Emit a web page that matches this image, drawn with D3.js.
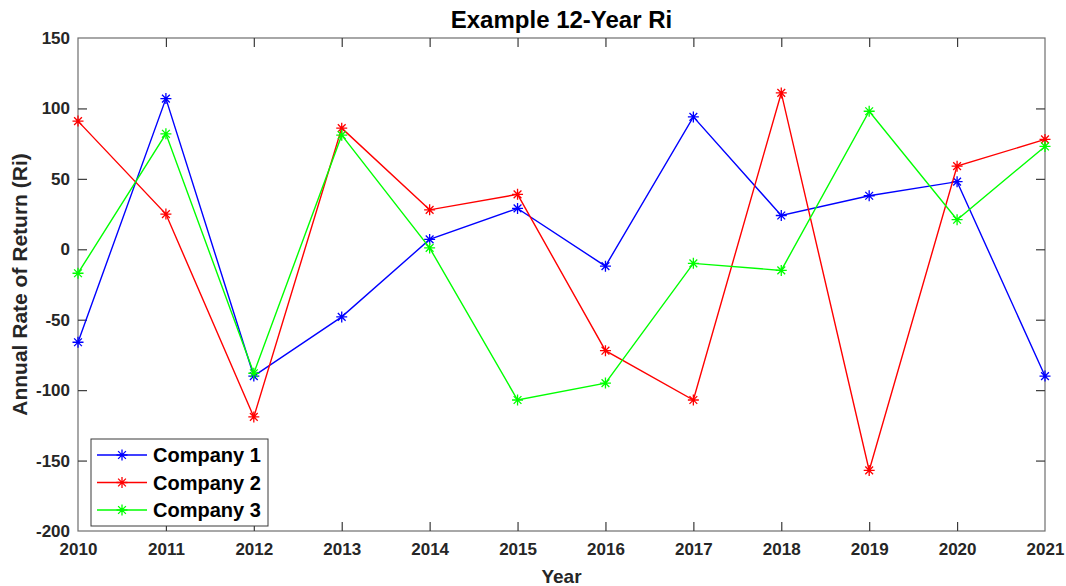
<!DOCTYPE html>
<html>
<head>
<meta charset="utf-8">
<script src="https://cdn.jsdelivr.net/npm/d3@7"></script>
<style>
  body { margin: 0; background: #fff; }
  text { font-family: Arial, "Liberation Sans", sans-serif; font-weight: bold; }
</style>
</head>
<body>
<div class="container"></div>
<script>
const WIDTH = 1066;
const HEIGHT = 586;
const MARGIN = {top: 38, right: 21, bottom: 55, left: 78};

const years = [2010, 2011, 2012, 2013, 2014, 2015, 2016, 2017, 2018, 2019, 2020, 2021];
const company1 = [-66, 107, -90, -48, 7, 29, -12, 94, 24, 38, 48, -90];
const company2 = [91, 25, -119, 86, 28, 39, -72, -107, 111, -157, 59, 78];
const company3 = [-17, 82, -88, 81, 1, -107, -95, -10, -15, 98, 21, 73];
const seriesNames = ["Company 1", "Company 2", "Company 3"];
const seriesColors = ["#0000ff", "#ff0000", "#00ff00"];
const yTicks = [-200, -150, -100, -50, 0, 50, 100, 150];

const INNER_WIDTH = WIDTH - MARGIN.left - MARGIN.right;
const INNER_HEIGHT = HEIGHT - MARGIN.top - MARGIN.bottom;

var translate = function(x, y){
    return "translate(" + x + "," + y + ")";
};

var xScale = d3.scaleLinear()
    .domain([2010, 2021])
    .range([0, INNER_WIDTH]);

var yScale = d3.scaleLinear()
    .domain([-200, 150])
    .range([INNER_HEIGHT, 0]);

// asterisk marker: a "+" and an "x" on top of each other
var asterisk = function(r){
    var d = r * Math.SQRT1_2;
    return "M" + (-r) + ",0L" + r + ",0M0," + (-r) + "L0," + r +
           "M" + (-d) + "," + (-d) + "L" + d + "," + d +
           "M" + (-d) + "," + d + "L" + d + "," + (-d);
};

// plain hyphen for negatives, like the original
var plain = function(d){ return String(d); };

var loadChart = function(){
    var svg = d3.select(".container").append("svg")
        .attr("width", WIDTH)
        .attr("height", HEIGHT);

    var g = svg.append("g").attr("transform", translate(MARGIN.left, MARGIN.top));

    // box
    g.append("rect")
        .attr("width", INNER_WIDTH)
        .attr("height", INNER_HEIGHT)
        .attr("fill", "none")
        .attr("stroke", "#6e6e6e")
        .attr("stroke-width", 1.2);

    var styleAxis = function(sel, showText){
        sel.select(".domain").remove();
        sel.selectAll(".tick line").attr("stroke", "#3a3a3a").attr("stroke-width", 1.2);
        sel.selectAll(".tick text")
            .attr("fill", "#262626")
            .style("font-size", "17px")
            .style("display", showText ? null : "none");
    };

    g.append("g")
        .attr("transform", translate(0, INNER_HEIGHT))
        .call(d3.axisBottom(xScale).tickValues(years).tickFormat(plain).tickSize(-9).tickPadding(12))
        .call(styleAxis, true);

    g.append("g")
        .call(d3.axisTop(xScale).tickValues(years).tickSize(-9))
        .call(styleAxis, false);

    g.append("g")
        .call(d3.axisLeft(yScale).tickValues(yTicks).tickFormat(plain).tickSize(-9).tickPadding(8))
        .call(styleAxis, true);

    g.append("g")
        .attr("transform", translate(INNER_WIDTH, 0))
        .call(d3.axisRight(yScale).tickValues(yTicks).tickSize(-9))
        .call(styleAxis, false);

    // the end ticks sit on the box, hide them
    g.selectAll(".tick").filter(function(d){ return d === 2010 || d === 2021 || d === -200 || d === 150; })
        .select("line").attr("stroke", "none");

    var allSeries = [company1, company2, company3];

    var line = d3.line()
        .x(function(d, i){ return xScale(years[i]); })
        .y(function(d){ return yScale(d); });

    allSeries.forEach(function(values, s){
        g.append("path")
            .datum(values)
            .attr("d", line)
            .attr("fill", "none")
            .attr("stroke", seriesColors[s])
            .attr("stroke-width", 1.4);

        g.append("g").selectAll("path")
            .data(values)
            .enter()
            .append("path")
            .attr("d", asterisk(5.5))
            .attr("transform", function(d, i){ return translate(xScale(years[i]), yScale(d)); })
            .attr("fill", "none")
            .attr("stroke", seriesColors[s])
            .attr("stroke-width", 1.3);
    });

    // title and axis labels
    svg.append("text")
        .attr("x", MARGIN.left + INNER_WIDTH / 2)
        .attr("y", 28)
        .attr("text-anchor", "middle")
        .attr("fill", "#000")
        .style("font-size", "24px")
        .text("Example 12-Year Ri");

    svg.append("text")
        .attr("x", MARGIN.left + INNER_WIDTH / 2)
        .attr("y", 583)
        .attr("text-anchor", "middle")
        .attr("fill", "#262626")
        .style("font-size", "19px")
        .text("Year");

    svg.append("text")
        .attr("transform", translate(27, MARGIN.top + INNER_HEIGHT / 2) + " rotate(-90)")
        .attr("text-anchor", "middle")
        .attr("fill", "#262626")
        .style("font-size", "21px")
        .text("Annual Rate of Return (Ri)");

    // legend
    var legend = svg.append("g").attr("transform", translate(91, 439));
    legend.append("rect")
        .attr("width", 177)
        .attr("height", 87)
        .attr("fill", "#fff")
        .attr("stroke", "#3a3a3a")
        .attr("stroke-width", 1);

    seriesNames.forEach(function(name, s){
        var row = legend.append("g").attr("transform", translate(0, 16 + s * 27.5));
        row.append("line")
            .attr("x1", 6).attr("x2", 56)
            .attr("stroke", seriesColors[s])
            .attr("stroke-width", 1.4);
        row.append("path")
            .attr("d", asterisk(5.5))
            .attr("transform", translate(31, 0))
            .attr("fill", "none")
            .attr("stroke", seriesColors[s])
            .attr("stroke-width", 1.3);
        row.append("text")
            .attr("x", 62)
            .attr("y", 7)
            .attr("fill", "#000")
            .style("font-size", "20px")
            .text(name);
    });
};

window.onload = loadChart;
</script>
</body>
</html>
